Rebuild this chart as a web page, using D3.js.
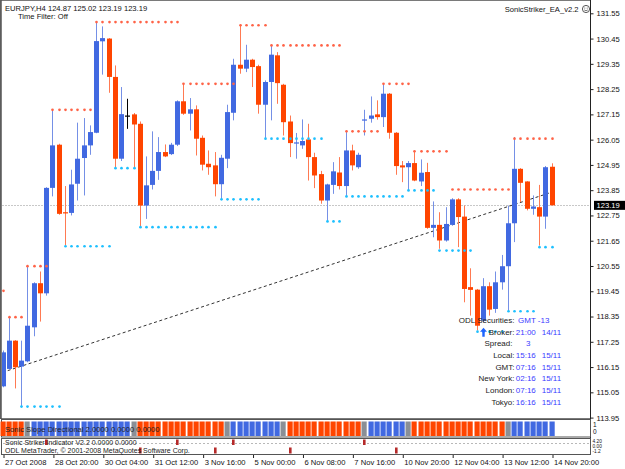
<!DOCTYPE html>
<html><head><meta charset="utf-8">
<script src="https://cdn.jsdelivr.net/npm/d3@7/dist/d3.min.js"></script>
<style>body{margin:0;background:#fff}svg{display:block;font-family:"Liberation Sans",Arial,sans-serif}</style>
</head><body><svg id="c" width="625" height="469"></svg>
<script>
// ---------- data ----------
const opens=[115.31,116.07,117.30,116.17,116.40,117.88,119.80,119.36,123.95,125.83,122.89,122.86,124.13,125.25,125.80,126.35,130.33,130.45,128.78,125.22,127.10,127.15,126.74,123.18,124.08,124.69,125.51,125.42,125.83,127.72,127.18,127.37,126.13,125.00,124.93,124.11,125.22,127.22,129.31,129.14,129.53,129.25,127.57,128.56,129.72,128.44,126.84,125.90,125.80,126.06,125.29,124.55,123.40,124.08,124.62,124.03,125.58,124.85,126.90,126.96,127.15,127.03,128.05,126.35,124.93,124.85,125.03,124.23,124.64,122.21,122.34,121.66,122.34,123.45,122.70,119.63,119.52,118.17,119.67,118.68,119.84,120.54,122.41,124.78,124.23,123.04,123.11,122.70,124.87];
const highs=[116.87,118.32,117.32,117.30,120.54,119.84,120.31,123.98,127.35,125.87,124.03,124.74,126.79,126.99,126.67,131.17,130.98,130.47,129.28,128.34,127.83,127.21,126.84,125.32,126.41,126.16,125.84,125.91,127.76,128.48,127.86,127.54,126.23,125.58,125.51,125.39,127.57,129.57,131.03,130.18,129.57,129.31,128.63,130.15,129.86,128.48,127.10,126.34,126.93,126.74,125.48,124.69,124.13,125.07,125.29,126.38,125.83,125.48,127.35,127.93,127.76,128.48,128.08,126.38,125.12,125.12,125.51,125.19,125.04,123.36,122.89,123.11,123.50,123.50,123.18,120.45,119.55,120.02,119.84,120.31,121.03,123.18,126.16,124.81,124.24,123.62,124.08,124.90,125.02];
const lows=[115.27,116.04,115.22,114.40,116.36,117.49,118.13,119.26,123.58,122.78,121.44,122.75,123.40,123.62,125.39,126.33,128.88,128.09,124.85,125.12,126.52,124.81,122.24,122.60,123.88,124.30,125.29,125.38,125.77,127.13,126.45,125.36,124.71,124.52,123.58,123.47,124.81,126.89,128.92,128.99,128.34,127.18,126.09,126.89,127.61,126.23,125.29,125.22,125.65,124.27,123.94,123.26,122.49,123.69,123.88,123.55,124.71,124.78,126.23,126.79,126.92,126.60,126.09,124.52,124.20,123.84,124.24,124.03,122.17,121.80,121.30,121.61,122.31,121.37,118.97,118.39,117.74,118.10,118.39,118.51,119.52,118.57,121.59,123.33,122.97,122.78,121.44,122.17,123.19];
const closes=[116.79,117.30,116.14,116.43,117.95,119.80,119.36,123.95,125.80,122.82,122.84,124.10,125.22,125.80,126.38,130.34,130.47,128.78,125.22,127.16,127.10,126.71,123.18,124.06,124.69,125.51,125.32,125.83,127.72,127.18,127.37,126.09,124.96,124.85,124.11,125.26,127.25,129.31,129.14,129.53,129.21,127.57,128.56,129.75,128.51,126.81,125.90,125.93,125.99,125.29,124.49,123.40,124.10,124.67,124.03,125.58,124.93,125.39,126.93,127.10,127.03,128.05,126.35,124.90,124.84,125.03,124.27,124.61,122.21,122.34,121.66,122.38,123.45,122.68,119.55,119.51,117.95,119.67,118.65,119.84,120.54,122.41,124.78,124.17,123.04,123.14,122.70,124.85,123.19];
// resistance (red dots) and support (cyan dots): [fromBar, toBar, level]
const resistance=[[0,0,119.47],[1,3,118.32],[4,7,120.54],[8,14,127.35],[15,28,131.17],[29,37,128.48],[38,42,131.03],[43,54,130.15],[55,60,126.41],[61,65,128.48],[66,71,125.54],[72,81,123.88],[82,88,126.09]];
const support=[[3,9,114.43],[10,17,121.41],[18,21,124.81],[22,34,122.24],[35,41,123.45],[42,51,126.09],[52,54,122.49],[55,64,123.58],[65,69,123.84],[70,75,121.22],[76,80,117.69],[81,85,118.58],[86,88,121.37]];
const trendLine=[[0,115.92],[88,123.76]];
const priceTicks=[131.55,130.45,129.35,128.25,127.15,126.05,124.95,123.85,122.75,121.65,120.55,119.45,118.35,117.25,116.15,115.05,113.95];
const timeTickBars=[0,8,16,24,32,40,48,56,64,72,80,88];
const timeLabels=["27 Oct 2008","28 Oct 20:00","30 Oct 04:00","31 Oct 12:00","3 Nov 16:00","5 Nov 00:00","6 Nov 08:00","7 Nov 16:00","10 Nov 20:00","12 Nov 04:00","13 Nov 12:00","14 Nov 20:00"];
// Sonic Slope Directional runs: [from, to, state] 1=up,-1=down,0=flat
const slopeRuns=[[0,3,-1],[4,4,0],[5,20,1],[21,21,0],[22,35,-1],[36,36,0],[37,44,1],[45,45,0],[46,57,-1],[58,58,0],[59,64,1],[65,65,0],[66,80,-1],[81,81,0],[82,88,1]];
const strikerUp=[7,28,37,58];
const strikerDown=[22,34,46,63];
const strikerScaleLabels=["4.20","0.00","-1.2"];
const buyArrowBar=77;
const lastPrice=123.19;
const infoLabels=["ODL Securities:","Broker:","Spread:","Local:","GMT:","New York:","London:","Tokyo:"];
const infoValues=["GMT -13","21:00","3","15:16","07:16","02:16","07:16","16:16"];
const infoDates=["","14/11","","15/11","15/11","15/11","15/11","15/11"];

// ---------- drawing ----------
const svg=d3.select("#c");
const FS=7.6;
const x=d3.scaleLinear().domain([0,88]).range([2.5,551.6]);
const y=d3.scaleLinear().domain([113.95,131.55]).range([417.6,13.3]);
const px=v=>Math.round(x(v));
const RED="#ff4500",BLUE="#4169e1";

svg.append("rect").attr("x",0).attr("y",0).attr("width",625).attr("height",469).attr("fill","#fff");
svg.append("defs").append("clipPath").attr("id","clip").append("rect").attr("x",2).attr("y",2).attr("width",588).attr("height",416);

// frames
svg.append("rect").attr("x",0.5).attr("y",0.5).attr("width",590).attr("height",418).attr("fill","none").attr("stroke","#7a7a7a");
svg.append("line").attr("x1",1).attr("x2",1).attr("y1",0).attr("y2",419).attr("stroke","#555").attr("stroke-width",1.5);

const g=svg.append("g").attr("clip-path","url(#clip)");

// bid line
g.append("line").attr("x1",2).attr("x2",590).attr("y1",Math.round(y(lastPrice))+0.5).attr("y2",Math.round(y(lastPrice))+0.5)
 .attr("stroke","#c8c8c8").attr("stroke-dasharray","2,1");

// trend line
g.append("line").attr("x1",x(trendLine[0][0])).attr("y1",y(trendLine[0][1])).attr("x2",x(trendLine[1][0])).attr("y2",y(trendLine[1][1]))
 .attr("stroke","#333").attr("stroke-width",1).attr("stroke-dasharray","3,2.5");

// candles
const idx=d3.range(opens.length);
const col=i=>closes[i]>opens[i]?BLUE:(closes[i]<opens[i]?RED:"#000");
const wickCol=i=>closes[i]>opens[i]?"#7590e6":(closes[i]<opens[i]?"#ff7a52":"#000");
g.selectAll(".wick").data(idx).join("line").attr("x1",i=>px(i)+0.5).attr("x2",i=>px(i)+0.5)
 .attr("y1",i=>y(highs[i])).attr("y2",i=>y(lows[i])).attr("stroke",wickCol).attr("stroke-width",1);
g.selectAll(".body").data(idx).join("rect").attr("x",i=>px(i)-2).attr("width",5)
 .attr("y",i=>y(Math.max(opens[i],closes[i])))
 .attr("height",i=>Math.max(1.2,Math.abs(y(opens[i])-y(closes[i]))))
 .attr("fill",col);

// dots
function dots(levels,color){
  const pts=[];levels.forEach(([a,b,l])=>{for(let i=a;i<=b;i++)pts.push([i,l]);});
  g.append("g").selectAll("circle").data(pts).join("circle").attr("cx",d=>px(d[0])+0.5).attr("cy",d=>y(d[1]))
   .attr("r",1.35).attr("fill",color);
}
dots(resistance,"#ff6347");
dots(support,"#1ec0ff");

// buy arrow
{
  const ax=px(buyArrowBar)+0.5, ay=y(support[10][2])+0.5;
  svg.append("path").attr("d",`M${ax},${ay-4.5} L${ax+3.5},${ay-0.5} L${ax+1.2},${ay-0.5} L${ax+1.2},${ay+4.5} L${ax-1.2},${ay+4.5} L${ax-1.2},${ay-0.5} L${ax-3.5},${ay-0.5} Z`).attr("fill","#1e64ff");
}

// header text
svg.append("text").attr("x",5).attr("y",10.5).attr("font-size",FS).attr("fill","#111")
 .text(`EURJPY,H4  ${opens[88].toFixed(2)} ${highs[88].toFixed(2)} ${lows[88].toFixed(2)} ${closes[88].toFixed(2)}`);
svg.append("text").attr("x",18).attr("y",19).attr("font-size",FS).attr("fill","#111").text("Time Filter: Off");
svg.append("text").attr("x",578.5).attr("y",11.5).attr("font-size",FS).attr("text-anchor","end").attr("fill","#111").text("SonicStriker_EA_v2.2");
{
  const s=svg.append("g").attr("transform","translate(586,9)");
  s.append("circle").attr("r",3.6).attr("fill","#fff").attr("stroke","#444").attr("stroke-width",0.9);
  s.append("circle").attr("cx",-1.2).attr("cy",-1).attr("r",0.5).attr("fill","#444");
  s.append("circle").attr("cx",1.2).attr("cy",-1).attr("r",0.5).attr("fill","#444");
  s.append("path").attr("d","M-1.8,0.9 Q0,2.6 1.8,0.9").attr("fill","none").attr("stroke","#444").attr("stroke-width",0.7);
}

// info panel
const rowY=[320,331.7,343.3,355,366.7,378.3,390.2,402];
const info=svg.append("g").attr("font-size",8);
infoLabels.forEach((t,i)=>{
  info.append("text").attr("x",i===2?512.5:514.5).attr("y",rowY[i]+3).attr("text-anchor","end").attr("fill","#222").text(t);
  info.append("text").attr("x",i===0?518:(i===2?526:515.8)).attr("y",rowY[i]+3).attr("fill","#3b3bff").text(infoValues[i]);
  if(infoDates[i])info.append("text").attr("x",541.7).attr("y",rowY[i]+3).attr("fill","#3b3bff").text(infoDates[i]);
});

// price axis
const ax=svg.append("g").attr("transform","translate(590.5,0)")
 .call(d3.axisRight(y).tickValues(priceTicks).tickSize(3).tickPadding(3).tickFormat(d=>d.toFixed(2)));
ax.select(".domain").remove();
ax.selectAll("text").attr("font-size",FS).attr("fill","#111").attr("font-family","Liberation Sans,Arial,sans-serif");
ax.selectAll("line").attr("stroke","#222");
svg.append("line").attr("x1",590.5).attr("x2",590.5).attr("y1",0).attr("y2",455).attr("stroke","#222");
// last price box
svg.append("rect").attr("x",594).attr("y",y(lastPrice)-4.5).attr("width",31).attr("height",9).attr("fill","#000");
svg.append("text").attr("x",596.5).attr("y",y(lastPrice)+3).attr("font-size",FS).attr("fill","#fff").text(lastPrice.toFixed(2));

// panel 1: Sonic Slope Directional
svg.append("rect").attr("x",1.5).attr("y",419.5).attr("width",589).attr("height",17.5).attr("fill","#fff").attr("stroke","#555");
const slope=[];slopeRuns.forEach(([a,b,s])=>{for(let i=a;i<=b;i++)slope.push([i,s]);});
svg.append("g").selectAll("rect").data(slope).join("rect")
 .attr("x",d=>px(d[0])-2.5).attr("width",5.2).attr("y",421.5).attr("height",14.5)
 .attr("fill",d=>d[1]>0?BLUE:(d[1]<0?RED:"#8a8f96"));
svg.append("text").attr("x",5).attr("y",432).attr("font-size",FS).attr("fill","#222").text("Sonic Slope Directional 2.0000 0.0000 0.0000");
svg.append("text").attr("x",593).attr("y",427).attr("font-size",6.5).attr("fill","#111").text("1");
svg.append("text").attr("x",593).attr("y",433.5).attr("font-size",6.5).attr("fill","#111").text("0");

// panel 2: Sonic Striker Indicator
svg.append("rect").attr("x",1.5).attr("y",438.5).attr("width",589).attr("height",16).attr("fill","#fff").attr("stroke","#555");
svg.append("line").attr("x1",3).attr("x2",589).attr("y1",443.5).attr("y2",443.5).attr("stroke","#b8b8b8").attr("stroke-dasharray","2,2");
svg.append("g").selectAll("rect").data(strikerUp).join("rect").attr("x",d=>px(d)-1).attr("width",2.6).attr("y",439.5).attr("height",5.5).attr("fill","#b52a2a");
svg.append("g").selectAll("rect").data(strikerDown).join("rect").attr("x",d=>px(d)-1).attr("width",2.6).attr("y",447.5).attr("height",6).attr("fill","#b52a2a");
svg.append("text").attr("x",5).attr("y",444.6).attr("font-size",7).attr("fill","#222").text("Sonic Striker Indicator V2.2 0.0000 0.0000");
svg.append("text").attr("x",5).attr("y",452.8).attr("font-size",7).attr("fill","#222").text("ODL MetaTrader, © 2001-2008 MetaQuotes Software Corp.");
strikerScaleLabels.forEach((t,i)=>svg.append("text").attr("x",592.5).attr("y",443.2+i*4.9).attr("font-size",4.8).attr("fill","#111").text(t));

// time axis
const tx=svg.append("g").attr("transform","translate(0,455)")
 .call(d3.axisBottom(d3.scaleLinear().domain([0,88]).range([px(0)+0.5,px(88)+0.5])).tickValues(timeTickBars).tickSize(3).tickFormat((d,i)=>timeLabels[i]));
tx.select(".domain").remove();
tx.selectAll("line").attr("stroke","#222");
tx.selectAll("text").attr("text-anchor","start").attr("x",1).attr("y",5).attr("dy","0.71em").attr("font-size",FS).attr("fill","#111").attr("font-family","Liberation Sans,Arial,sans-serif");
</script></body></html>
